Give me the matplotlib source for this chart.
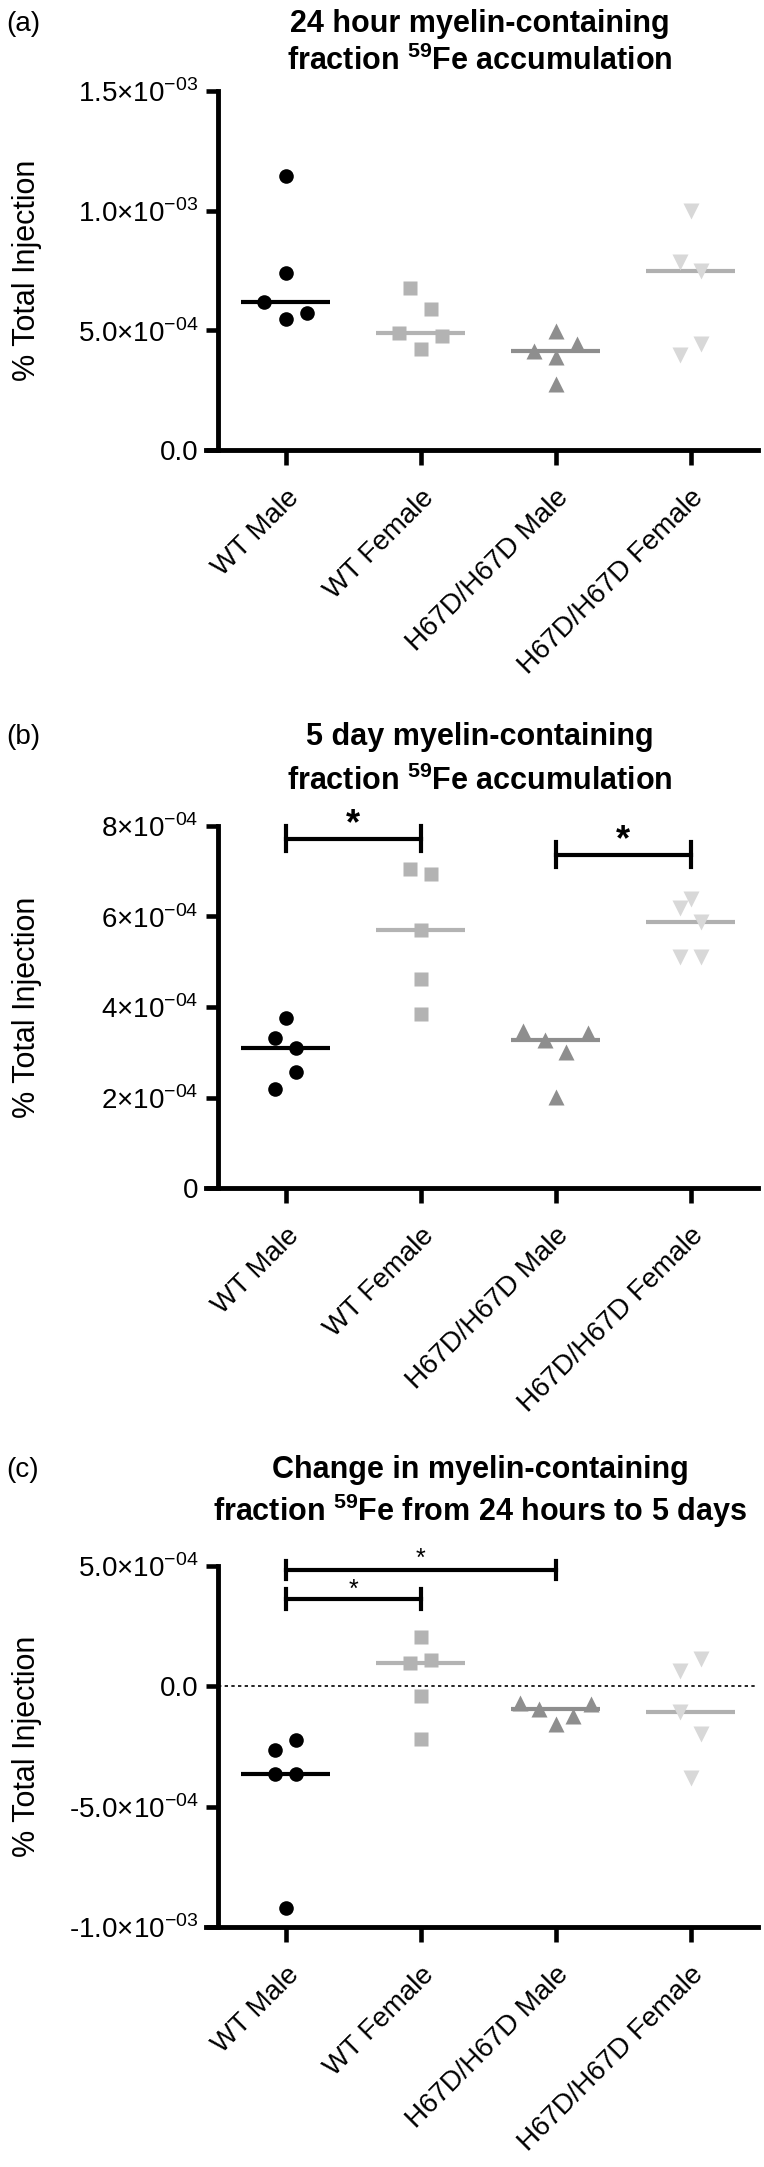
import numpy as np
import matplotlib
matplotlib.use('Agg')
import matplotlib.pyplot as plt

plt.rcParams['font.family'] = ['Liberation Sans', 'DejaVu Sans']
plt.rcParams['mathtext.fontset'] = 'custom'
plt.rcParams['mathtext.rm'] = 'Liberation Sans'
plt.rcParams['mathtext.bf'] = 'Liberation Sans:bold'

groups = ['WT Male', 'WT Female', 'H67D/H67D Male', 'H67D/H67D Female']

# (a) 24 hour accumulation, % total injection
a_wt_m = [1.143e-3, 0.739e-3, 0.617e-3, 0.571e-3, 0.549e-3]
a_wt_f = [0.678e-3, 0.590e-3, 0.4875e-3, 0.475e-3, 0.424e-3]
a_hd_m = [0.499e-3, 0.444e-3, 0.414e-3, 0.3875e-3, 0.275e-3]
a_hd_f = [1.000e-3, 0.785e-3, 0.749e-3, 0.444e-3, 0.396e-3]

# (b) 5 day accumulation
b_wt_m = [3.756e-4, 3.311e-4, 3.104e-4, 2.563e-4, 2.185e-4]
b_wt_f = [7.05e-4, 6.94e-4, 5.70e-4, 4.62e-4, 3.85e-4]
b_hd_m = [3.46e-4, 3.43e-4, 3.27e-4, 3.01e-4, 2.01e-4]
b_hd_f = [6.39e-4, 6.19e-4, 5.88e-4, 5.10e-4, 5.10e-4]

# (c) change from 24 h to 5 days
c_wt_m = [-2.22e-4, -2.64e-4, -3.625e-4, -3.625e-4, -9.22e-4]
c_wt_f = [2.04e-4, 1.10e-4, 0.97e-4, -0.39e-4, -2.19e-4]
c_hd_m = [-0.68e-4, -0.75e-4, -0.94e-4, -1.24e-4, -1.57e-4]
c_hd_f = [1.14e-4, 0.65e-4, -1.08e-4, -1.99e-4, -3.79e-4]

a_ticks = [0, 5e-4, 1e-3, 1.5e-3]
a_ticklabels = ['0.0', r'5.0$\times$10$^{-04}$', r'1.0$\times$10$^{-03}$', r'1.5$\times$10$^{-03}$']
b_ticks = [0, 2e-4, 4e-4, 6e-4, 8e-4]
b_ticklabels = ['0', r'2$\times$10$^{-04}$', r'4$\times$10$^{-04}$', r'6$\times$10$^{-04}$', r'8$\times$10$^{-04}$']
c_ticks = [-1e-3, -5e-4, 0, 5e-4]
c_ticklabels = [r'-1.0$\times$10$^{-03}$', r'-5.0$\times$10$^{-04}$', '0.0', r'5.0$\times$10$^{-04}$']

# significance bars: (group from, group to, bar height, half tick, star height)
b_sig = [(0, 1, 7.72e-4, 0.28e-4, 8.02e-4), (2, 3, 7.37e-4, 0.28e-4, 7.67e-4)]
c_sig = [(0, 2, 4.84e-4, 0.36e-4, 5.3e-4), (0, 1, 3.63e-4, 0.40e-4, 4.0e-4)]

# horizontal scatter of points inside each column (picture layout)
a_jit = [[0, 0, -0.16, 0.16, 0], [-0.08, 0.08, -0.16, 0.16, 0],
         [0, 0.16, -0.16, 0, 0], [0, -0.08, 0.08, 0.08, -0.08]]
b_jit = [[0, -0.08, 0.08, 0.08, -0.08], [-0.08, 0.08, 0, 0, 0],
         [-0.24, 0.24, -0.08, 0.08, 0], [0, -0.08, 0.08, -0.08, 0.08]]
c_jit = [[0.08, -0.08, -0.08, 0.08, 0], [0, 0.08, -0.08, 0, 0],
         [-0.26, 0.26, -0.12, 0.13, 0], [0.08, -0.08, -0.08, 0.08, 0]]

markers = ['o', 's', '^', 'v']
msizes = [10.5, 10, 11, 11]
mcolors = ['black', '#b3b3b3', '#8e8e8e', '#d8d8d8']
lcolors = ['black', '#b3b3b3', '#8e8e8e', '#b0b0b0']

H = 2167.0
W = 764.0


def draw_panel(ax, data, jit, ticks, ticklabels, ylim):
    for i, vals in enumerate(data):
        xs = [i + j for j in jit[i]]
        ax.plot(xs, vals, ls='none', marker=markers[i], ms=msizes[i],
                color=mcolors[i], mec='none', clip_on=False, zorder=3)
        med = np.median(vals)
        ax.plot([i - 0.33, i + 0.33], [med, med], color=lcolors[i], lw=3,
                solid_capstyle='butt', zorder=2)
    ax.set_xlim(-0.5, 3.5)
    ax.set_ylim(*ylim)
    ax.set_yticks(ticks)
    ax.set_yticklabels(ticklabels)
    ax.set_xticks(range(len(groups)))
    ax.set_xticklabels(groups, rotation=45, ha='right', va='top',
                       rotation_mode='anchor', fontsize=20)
    ax.tick_params(axis='y', length=9, width=3.3, labelsize=20, pad=5)
    ax.tick_params(axis='x', length=11, width=3.3, pad=14)
    for s in ['top', 'right']:
        ax.spines[s].set_visible(False)
    for s in ['left', 'bottom']:
        ax.spines[s].set_linewidth(3.5)
    ax.spines['bottom'].set_bounds(-0.59, 3.5)
    ax.set_ylabel('% Total Injection', fontsize=22)
    ax.yaxis.set_label_coords(-0.325, 0.5)


def draw_sig(ax, sig, size, bold):
    for g0, g1, y, h, ys in sig:
        ax.plot([g0, g1], [y, y], color='black', lw=3, clip_on=False)
        ax.plot([g0, g0], [y - h, y + h], color='black', lw=3, clip_on=False)
        ax.plot([g1, g1], [y - h, y + h], color='black', lw=3, clip_on=False)
        ax.text((g0 + g1) / 2.0, ys, '*', ha='center', va='center',
                fontsize=size, fontweight='bold' if bold else 'normal')


def add_title(top_px, line1, line2, letter):
    fig.text(480 / W, 1 - top_px[0] / H, line1, ha='center', va='center',
             fontsize=22, fontweight='bold')
    fig.text(480 / W, 1 - top_px[1] / H, line2, ha='center', va='center',
             fontsize=22, fontweight='bold')
    fig.text(6 / W, 1 - top_px[0] / H, letter, ha='left', va='center', fontsize=20)


fig = plt.figure(figsize=(7.64, 21.67), dpi=100)

left = 218 / W
width = 540 / W
ax_a = fig.add_axes([left, 1 - 450 / H, width, 359 / H])
ax_b = fig.add_axes([left, 1 - 1188 / H, width, 362 / H])
ax_c = fig.add_axes([left, 1 - 1927 / H, width, 361 / H])

draw_panel(ax_a, [a_wt_m, a_wt_f, a_hd_m, a_hd_f], a_jit, a_ticks, a_ticklabels, (0, 1.5e-3))
draw_panel(ax_b, [b_wt_m, b_wt_f, b_hd_m, b_hd_f], b_jit, b_ticks, b_ticklabels, (0, 8e-4))
draw_panel(ax_c, [c_wt_m, c_wt_f, c_hd_m, c_hd_f], c_jit, c_ticks, c_ticklabels, (-1e-3, 5e-4))

ax_c.axhline(0, color='black', lw=1.2, ls=(0, (2, 2)), zorder=1)

draw_sig(ax_b, b_sig, 26, True)
draw_sig(ax_c, c_sig, 18, False)

add_title((24, 61), '24 hour myelin-containing',
          r'fraction $\mathbf{^{59}}$Fe accumulation', '(a)')
add_title((737, 781), '5 day myelin-containing',
          r'fraction $\mathbf{^{59}}$Fe accumulation', '(b)')
add_title((1470, 1511), 'Change in myelin-containing',
          r'fraction $\mathbf{^{59}}$Fe from 24 hours to 5 days', '(c)')

fig.savefig('out.png', dpi=100)
